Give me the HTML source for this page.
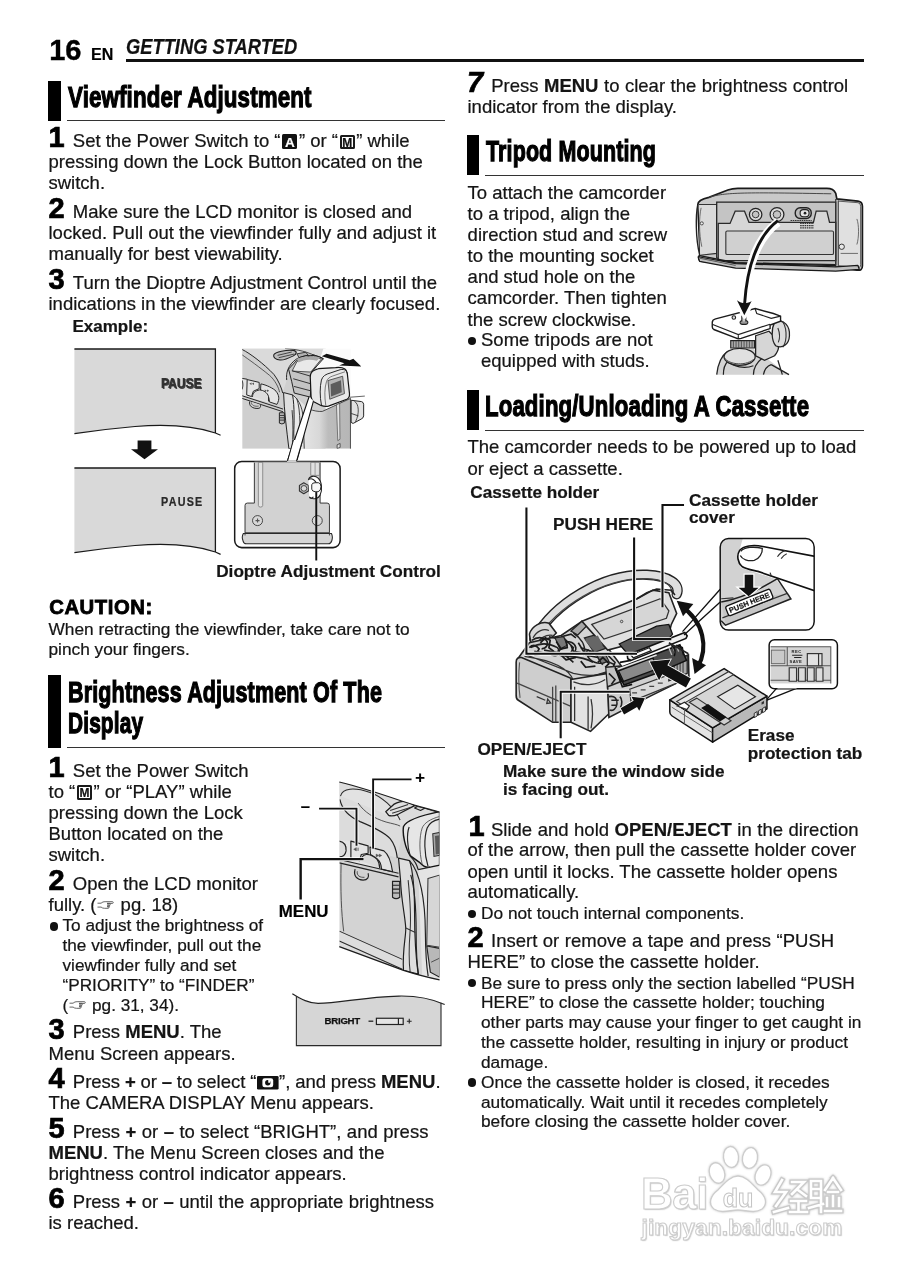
<!DOCTYPE html>
<html lang="en"><head><meta charset="utf-8"><title>Getting Started - page 16</title>
<style>
html,body{margin:0;padding:0;background:#fff;}
body{width:899px;height:1280px;overflow:hidden;font-family:"Liberation Sans",sans-serif;color:#1a1a1a;}
#page{position:relative;width:899px;height:1280px;background:#fff;overflow:hidden;will-change:transform;transform:translateZ(0);}
.t{position:absolute;white-space:nowrap;line-height:1;font-family:"Liberation Sans",sans-serif;color:#151515;-webkit-text-stroke:0.22px #151515;}
.b{font-weight:bold;}
.num{font-weight:bold;color:#000;-webkit-text-stroke:0.7px #000;}
.h{font-weight:bold;color:#000;transform-origin:0 0;-webkit-text-stroke:1.25px #000;letter-spacing:0.2px;}
.hd{font-style:italic;font-weight:bold;transform-origin:0 0;color:#111;}
.cau{font-weight:bold;color:#000;-webkit-text-stroke:0.8px #000;letter-spacing:0.3px;}
.bar{position:absolute;background:#000;}
.rule{position:absolute;background:#333;height:1px;}
.abs{position:absolute;}
.ia{-webkit-text-stroke:0.2px #fff;display:inline-block;background:#111;color:#fff;font-weight:bold;font-size:13.5px;line-height:15px;height:14px;padding-top:1px;width:15px;text-align:center;border-radius:1.5px;vertical-align:-2.2px;margin:0 1.6px 0 1.8px;overflow:hidden;}
.im{display:inline-block;background:#fff;color:#111;font-weight:bold;font-size:12px;line-height:11.4px;height:9.8px;padding-top:1px;width:10.8px;text-align:center;border:2px solid #1a1a1a;border-radius:1.5px;vertical-align:-2.2px;margin:0 1.6px 0 1.8px;letter-spacing:-0.3px;text-indent:-0.3px;overflow:hidden;}
.hand{display:inline-block;vertical-align:0px;margin:0 1px;}
.idisp{display:inline-block;vertical-align:-1.2px;margin:0 0.6px;}
.bl{position:absolute;width:8.6px;height:8.6px;border-radius:50%;background:#111;}
svg{overflow:visible;}

</style></head>
<body>
<div id="page">
<svg class="abs" style="left:0;top:0" width="460" height="600" viewBox="0 0 460 600">
<path d="M74.4 349 H215.4 V433 C190 424.5 160 424.5 135 426.5 C112 428.5 92 431 74.4 433.6 Z" fill="#d9d9d9"/>
<path d="M74.4 349 H215.4 V433" fill="none" stroke="#1a1a1a" stroke-width="1.3"/>
<path d="M74.4 433.6 C92 431 112 428.5 135 426.5 C160 424.5 190 424.5 215.4 433 L220.6 435.2" fill="none" stroke="#1a1a1a" stroke-width="1.2"/>
<path d="M74.4 468 H215.4 V552 C190 543.5 160 543.5 135 545.5 C112 547.5 92 550 74.4 552.6 Z" fill="#d9d9d9"/>
<path d="M74.4 468 H215.4 V552" fill="none" stroke="#1a1a1a" stroke-width="1.3"/>
<path d="M74.4 552.6 C92 550 112 547.5 135 545.5 C160 543.5 190 543.5 215.4 552 L220.6 554.4" fill="none" stroke="#1a1a1a" stroke-width="1.2"/>
<path d="M137.6 440.4 H151.4 V449.3 H158 L144.5 459.2 L131 449.3 H137.6 Z" fill="#111"/>
</svg>
<div class="t b" style="left:160.5px;top:375.33px;font-size:15.20px;color:#333;transform-origin:0 0;transform:scaleX(0.79);filter:blur(0.45px);text-shadow:1.2px 0.6px 0 #444;">PAUSE</div>
<div class="t b" style="left:161.0px;top:494.68px;font-size:13.60px;color:#2a2a2a;letter-spacing:1.6px;transform-origin:0 0;transform:scaleX(0.79);">PAUSE</div>
<svg class="abs" style="left:230px;top:340px" width="150" height="120" viewBox="0 0 899 719">
<defs><clipPath id="c1"><rect x="73" y="51" width="653" height="601"/></clipPath>
<linearGradient id="g1" x1="0" x2="1" y1="0" y2="0"><stop offset="0" stop-color="#ececec"/><stop offset="0.45" stop-color="#d8d8d8"/><stop offset="0.6" stop-color="#bcbcbc"/><stop offset="1" stop-color="#b6b6b6"/></linearGradient></defs>
<g clip-path="url(#c1)">
<rect x="73" y="51" width="500" height="601" fill="#cfcfcf"/>
<rect x="520" y="51" width="210" height="320" fill="#fbfbfb"/>
<path d="M73 51 H560 L540 112 L351 174 L340 240 L316 318 C310 290 290 240 263 206 C200 140 120 80 73 57 Z" fill="#dadada"/>
<path d="M73 57 C120 80 200 140 263 206 C290 240 310 290 316 318" fill="none" stroke="#222" stroke-width="5.85"/>
<path d="M73 89 C110 115 180 165 236 211 C270 240 292 285 297 313" fill="none" stroke="#333" stroke-width="4.55"/>
<path d="M262 89 C270 70 340 58 380 62 C405 68 400 85 380 95 C350 110 320 122 300 120 C275 118 258 105 262 89 Z" fill="#bcbcbc" stroke="#1f1f1f" stroke-width="6.5"/>
<path d="M285 92 L370 72 M292 106 L385 84" stroke="#333" stroke-width="5.2"/>
<path d="M401 83 L454 73 L468 90 L414 106 Z" fill="#b0b0b0" stroke="#222" stroke-width="5.2"/>
<path d="M330 51 C400 55 470 70 539 108" fill="none" stroke="#333" stroke-width="5.2"/>
<!-- control cluster -->
<path d="M73 230 L103 235 L175 254 L185 262 C215 268 262 290 276 307 C293 330 300 352 281 386 L73 334 Z" fill="#e4e4e4"/>
<path d="M73 230 L103 235 M103 237 L175 254 L175 291 L140 307 L129 339 L100 329 Z" fill="#e4e4e4" stroke="#222" stroke-width="5.85" stroke-linejoin="round"/>
<path d="M185 263 C215 268 262 290 276 307 C293 330 300 352 281 386 L236 371 C236 350 231 335 215 322 C200 312 190 305 183 302 Z" fill="#e4e4e4" stroke="#222" stroke-width="5.85" stroke-linejoin="round"/>
<path d="M135 341 C135 315 150 305 177 299 C200 300 225 315 231 339 L231 368" fill="#dcdcdc" stroke="#222" stroke-width="5.85"/>
<path d="M116 262 l13 -7 v15 z M131 262 l13 -7 v15 z M208 296 l13 8 l-13 8 z M222 296 l13 8 l-13 8 z" fill="#555"/>
<path d="M73 242 C78 260 78 280 73 295" fill="none" stroke="#222" stroke-width="6"/>
<path d="M73 334 L318 414 M73 350 L318 430" stroke="#222" stroke-width="5.85"/>
<path d="M118 368 C112 395 135 412 168 410 C184 408 186 398 180 386" fill="#d4d4d4" stroke="#222" stroke-width="5.85"/>
<path d="M128 374 C128 392 150 400 172 396" fill="none" stroke="#444" stroke-width="4.55"/>
<path d="M296 436 h30 v62 q-15 10 -30 0 z" fill="#bdbdbd" stroke="#222" stroke-width="5.85"/>
<path d="M298 452 h26 M298 466 h26 M298 480 h26" stroke="#222" stroke-width="5.2"/>
<!-- lower right panel -->
<path d="M380 330 L473 414 L553 428 L726 348 V652 H380 Z" fill="url(#g1)"/>
<path d="M473 414 C500 424 530 430 553 428 L722 350" fill="none" stroke="#333" stroke-width="5.2"/>
<path d="M638 388 L657 380 L659 595 L646 603 Z" fill="#e2e2e2" stroke="#444" stroke-width="3.9"/>
<path d="M642 628 l18 -8 v24 l-18 6 z" fill="#ddd" stroke="#333" stroke-width="4.55"/>
<path d="M722 350 V652" stroke="#444" stroke-width="5.2"/>
<!-- strap -->
<path d="M321 315 L375 329 C388 400 384 500 382 563 L388 652 L353 652 C340 540 325 430 321 315 Z" fill="#dedede" stroke="#1f1f1f" stroke-width="5.85"/>
<path d="M375 329 C420 360 440 420 440 500 L445 652 M400 350 C425 420 420 560 418 652 M372 420 C380 500 378 580 372 652" fill="none" stroke="#2a2a2a" stroke-width="5.2"/>
<!-- viewfinder tube -->
<path d="M351 174 L401 121 L502 89 L560 112 L490 190 L481 342 L385 318 L370 250 Z" fill="#c4c4c4" stroke="#1f1f1f" stroke-width="5.85" stroke-linejoin="round"/>
<path d="M372 186 L402 128 L500 96 L548 114 L484 192 Z" fill="#e9e9e9" stroke="#2a2a2a" stroke-width="4.55"/>
<path d="M375 185 L484 217 M379 232 L483 262 M383 278 L482 304" stroke="#222" stroke-width="5.2"/>
<path d="M340 240 C335 200 345 150 401 112 C450 85 520 85 560 112" fill="none" stroke="#222" stroke-width="5.85"/>
<path d="M401 112 C440 96 500 92 540 105 L520 125 C480 112 440 118 410 135 Z" fill="#a8a8a8"/>
</g>
<path d="M726 361 L788 369 Q800 372 801 385 V455 Q800 468 786 474 L740 499 Q728 500 726 492 Z" fill="#e2e2e2" stroke="#222" stroke-width="5.85"/>
<path d="M746 368 C772 380 778 440 752 490 M726 440 L770 455" fill="none" stroke="#333" stroke-width="5.2"/>
<path d="M718 343 L808 336" stroke="#333" stroke-width="4.55"/>
<path d="M481 222 C481 190 500 180 530 172 L633 165 C680 160 700 172 703 200 L716 320 C718 340 712 350 700 355 L590 396 C570 402 560 398 545 392 L505 372 C492 365 488 355 486 340 Z" fill="#e9e9e9" stroke="#151515" stroke-width="7.15"/>
<path d="M548 390 C538 340 538 280 548 240 C555 215 575 205 600 198 L660 178 C690 172 700 185 702 200" fill="none" stroke="#222" stroke-width="5.85"/>
<path d="M574 392 C566 340 566 290 578 250 C584 230 598 222 615 216 L690 190" fill="none" stroke="#555" stroke-width="4.55"/>
<path d="M587 243 L675 217 L686 321 L598 355 Z" fill="#b4b4b4" stroke="#333" stroke-width="4.55"/>
<path d="M603 265 L665 241 L670 313 L606 339 Z" fill="#5c5c5c"/>
<path d="M550 97 L579 83 L718 121 L739 113 L787 159 L654 152 L686 139 Z" fill="#111"/>
<path d="M474 340 L346 719 L402 719 L500 366 Z" fill="#fff"/>
<path d="M474 340 L346 719 M500 366 L402 719" stroke="#111" stroke-width="6.5" fill="none"/>
</svg>
<svg class="abs" style="left:225px;top:440px" width="150" height="140" viewBox="0 0 899 839">
<path d="M410 0 L375 130 L425 130 L465 0 Z" fill="#fff"/>
<rect x="58" y="129" width="632" height="516" rx="42" fill="#fff" stroke="#1a1a1a" stroke-width="9"/>
<path d="M410 0 L373 132 M465 0 L427 132" stroke="#111" stroke-width="5.85"/>
<path d="M372 131 L428 131" stroke="#fff" stroke-width="9"/>
<path d="M176 134 H570 V378 H612 Q626 378 626 392 V556 H120 V392 Q120 378 134 378 H176 Z" fill="#d2d2d2" stroke="#333" stroke-width="5.85"/>
<path d="M176 134 H570" stroke="#d2d2d2" stroke-width="6"/>
<path d="M200 134 H226 V392 Q226 402 213 402 Q200 402 200 392 Z" fill="#e2e2e2" stroke="#666" stroke-width="3.9"/>
<path d="M514 134 H566 V212 H514 Z" fill="#e0e0e0" stroke="#666" stroke-width="3.9"/>
<path d="M540 134 V212" stroke="#777" stroke-width="3.9"/>
<path d="M110 560 H638 Q648 580 640 604 Q634 622 620 622 H128 Q112 622 108 604 Q98 580 110 560 Z" fill="#d6d6d6" stroke="#2a2a2a" stroke-width="6.5"/>
<path d="M120 556 V572 M626 556 V572" stroke="#333" stroke-width="5.2"/>
<circle cx="195" cy="483" r="30" fill="#d8d8d8" stroke="#333" stroke-width="5.2"/>
<path d="M183 483 h24 M195 471 v24" stroke="#555" stroke-width="6.5"/>
<circle cx="553" cy="483" r="30" fill="#d8d8d8" stroke="#333" stroke-width="5.2"/>
<path d="M472 256 L500 272 V306 L472 322 L446 306 V272 Z" fill="#bbb" stroke="#333" stroke-width="6.5" stroke-linejoin="round"/>
<circle cx="473" cy="290" r="17" fill="#ddd" stroke="#333" stroke-width="5.2"/>
<path d="M500 240 C505 215 540 210 560 230 C580 250 585 300 570 330 C560 355 520 360 505 340" fill="#fff" stroke="#222" stroke-width="6.5"/>
<path d="M505 235 C520 225 545 245 548 262 M505 345 C515 350 525 348 530 340" fill="none" stroke="#222" stroke-width="6.5"/>
<path d="M520 268 Q522 256 540 256 H560 Q575 258 575 280 Q575 305 558 310 H540 Q522 308 520 295 Z" fill="#f8f8f8" stroke="#222" stroke-width="5.85"/>
<path d="M547 312 V722" stroke="#111" stroke-width="11.5"/>
</svg>
<svg class="abs" style="left:270px;top:760px" width="180" height="230" viewBox="0 0 899 1149">
<defs><clipPath id="c2"><path d="M346 110 C420 128 520 158 661 206 C740 232 800 246 847 260 V1098 C780 1085 720 1068 667 1051 L346 932 Z"/></clipPath></defs>
<g clip-path="url(#c2)">
<rect x="340" y="100" width="520" height="1010" fill="#d3d3d3"/>
<!-- top surface -->
<path d="M346 110 L847 260 V340 L690 300 L667 332 L636 490 L346 400 Z" fill="#dcdcdc"/>
<path d="M352 180 C362 140 420 135 500 162 C560 182 620 240 650 300" fill="#e2e2e2" stroke="#2a2a2a" stroke-width="5.2"/>
<path d="M349 197 C360 250 398 285 450 308 C508 332 570 360 600 393 C622 420 632 455 636 490" fill="none" stroke="#222" stroke-width="5.85"/>
<path d="M440 215 C470 260 520 292 580 310 C610 318 635 322 650 330" fill="none" stroke="#444" stroke-width="4.55"/>
<path d="M578 258 L618 222 C640 210 670 205 691 206 L722 228 L642 270 C620 280 600 280 593 277 Z" fill="#e0e0e0" stroke="#1f1f1f" stroke-width="6.5" stroke-linejoin="round"/>
<path d="M600 252 L690 222 M610 266 L705 236" stroke="#333" stroke-width="5.2"/>
<path d="M722 240 L752 225 L795 228 L752 252 Z" fill="#d8d8d8" stroke="#222" stroke-width="5.85" stroke-linejoin="round"/>
<path d="M722 228 C760 236 810 250 847 264" fill="none" stroke="#333" stroke-width="5.2"/>
<!-- control cluster -->
<path d="M346 400 L404 405 L490 429 L499 435 L569 454 L600 497 L612 560 L346 497 Z" fill="#e3e3e3"/>
<path d="M346 405 C373 410 382 430 380 454 C376 476 360 484 346 484" fill="#dcdcdc" stroke="#222" stroke-width="5.85"/>
<path d="M404 405 L490 429 L490 466 L456 472 L447 503 L404 490 Z" fill="#e3e3e3" stroke="#222" stroke-width="5.85" stroke-linejoin="round"/>
<path d="M499 435 L569 454 C590 470 604 500 612 558 L557 545 C555 520 548 505 538 497 C525 485 512 478 502 472 Z" fill="#e3e3e3" stroke="#222" stroke-width="5.85" stroke-linejoin="round"/>
<path d="M456 505 C456 485 462 475 480 472 C500 470 525 485 535 497 C545 510 548 525 548 541" fill="#dadada" stroke="#222" stroke-width="5.85"/>
<path d="M418 446 l13 -8 v16 z M436 438 v16 M442 438 v16 M530 470 l13 7 l-13 7 z M545 470 l13 7 l-13 7 z" fill="#555" stroke="#555" stroke-width="2.6"/>
<path d="M346 497 L642 566 M346 514 L642 584" stroke="#222" stroke-width="5.85"/>
<path d="M425 545 C415 580 435 598 465 600 C488 600 496 585 490 566" fill="#d0d0d0" stroke="#222" stroke-width="5.85"/>
<path d="M436 556 C432 578 450 588 472 586" fill="none" stroke="#444" stroke-width="4.55"/>
<!-- LCD door -->
<path d="M612 606 h36 v80 q-18 14 -36 0 z" fill="#bdbdbd" stroke="#222" stroke-width="5.85"/>
<path d="M614 626 h32 M614 645 h32 M614 664 h32" stroke="#222" stroke-width="5.2"/>
<path d="M355 520 C352 650 356 760 368 856" fill="none" stroke="#444" stroke-width="4.55"/>
<path d="M346 855 L661 996 V1048 L346 932 Z" fill="#dddddd"/>
<path d="M346 855 L661 996 M346 904 L661 1045" fill="none" stroke="#2a2a2a" stroke-width="5.2"/>
<!-- right body -->
<path d="M740 545 L847 505 V1098 L760 1075 Z" fill="#e4e4e4"/>
<path d="M789 592 L847 575 V935 L783 925 Z" fill="#d6d6d6" stroke="#333" stroke-width="5.2"/>
<path d="M783 929 L847 941 V1085 L801 1060 Z" fill="#b8b8b8" stroke="#222" stroke-width="5.85"/>
<path d="M805 1010 L847 990" stroke="#444" stroke-width="4.55"/>
<!-- strap -->
<path d="M642 490 L697 503 C715 560 722 650 722 760 C722 850 725 960 740 1070 L667 1051 C660 950 680 880 678 840 C675 780 655 700 652 600 Z" fill="#dedede" stroke="#1f1f1f" stroke-width="5.85" stroke-linejoin="round"/>
<path d="M703 574 C722 640 730 760 730 860 C730 950 732 1010 742 1072 M697 503 C750 560 775 700 776 860 C777 960 780 1020 790 1080" fill="none" stroke="#222" stroke-width="5.85"/>
<path d="M676 838 L726 862 M690 600 C700 700 705 780 700 850 C695 920 690 980 700 1058" fill="none" stroke="#333" stroke-width="5.2"/>
<!-- eyepiece -->
<path d="M667 332 C680 305 740 280 847 258 V525 L800 535 C775 540 760 525 745 510 L700 478 C676 440 660 370 667 332 Z" fill="#e6e6e6" stroke="#151515" stroke-width="7.15"/>
<path d="M700 478 C685 430 682 370 695 335 M789 530 C770 470 768 390 785 340 C795 315 820 300 847 295" fill="none" stroke="#222" stroke-width="5.85"/>
<path d="M760 520 C745 460 745 385 760 340 C770 315 800 295 847 282" fill="none" stroke="#555" stroke-width="4.55"/>
<path d="M813 368 L847 362 V476 L819 482 Z" fill="#a8a8a8" stroke="#333" stroke-width="5.2"/>
<path d="M824 380 L847 376 V468 L828 472 Z" fill="#5a5a5a"/>
<path d="M700 480 C720 500 735 525 740 548 M740 548 L800 535" fill="none" stroke="#222" stroke-width="5.85"/>
</g>
<path d="M346 110 C420 128 520 158 661 206 C740 232 800 246 847 260" fill="none" stroke="#1c1c1c" stroke-width="6"/>
<path d="M346 932 L667 1051 C720 1068 780 1085 847 1098" fill="none" stroke="#1c1c1c" stroke-width="6.5"/>
<!-- pointer lines with white halo -->
<path d="M707 97 H515 V442 M245 243 H432 V428 M153 697 V495 H467" fill="none" stroke="#fff" stroke-width="19" stroke-linecap="butt"/>
<path d="M707 97 H515 V442 M245 243 H432 V428" fill="none" stroke="#111" stroke-width="9.5"/>
<path d="M153 697 V495 H467" fill="none" stroke="#111" stroke-width="12"/>
</svg>
<svg class="abs" style="left:285px;top:985px" width="165" height="70" viewBox="0 0 899 381">
<path d="M62 62 C100 85 130 100 180 100 C300 100 420 65 620 60 C720 58 790 72 850 96 V330 H62 Z" fill="#d6d6d6"/>
<path d="M40 47 C90 78 130 100 180 100 C300 100 420 65 620 60 C720 58 800 75 870 106" fill="none" stroke="#222" stroke-width="6.5"/>
<path d="M62 62 V330 H850 V96" fill="none" stroke="#2a2a2a" stroke-width="6"/>
<rect x="498" y="181" width="146" height="34" fill="#e4e4e4" stroke="#222" stroke-width="6.5"/>
<path d="M618 181 V215" stroke="#222" stroke-width="6.5"/>
<path d="M455 197 H481" stroke="#222" stroke-width="7"/>
<path d="M664 197 H690 M677 184 V210" stroke="#222" stroke-width="6"/>
</svg>
<div class="t b" style="left:324.6px;top:1016.19px;font-size:9.70px;color:#111;letter-spacing:-0.3px;-webkit-text-stroke:0.25px #111;">BRIGHT</div>
<svg class="abs" style="left:680px;top:180px" width="200" height="200" viewBox="0 0 899 899">
<!-- camcorder bottom view -->
<path d="M80 110 C80 95 100 85 130 78 L215 45 Q235 38 260 38 H660 Q690 38 700 60 L705 85 L800 95 Q820 98 820 118 V385 Q820 410 795 405 L705 392 L700 400 L250 385 L95 365 Q82 362 84 345 L90 335 Z" fill="#c9c9c9" stroke="#1a1a1a" stroke-width="7.5"/>
<path d="M130 78 C200 55 300 55 680 62" fill="none" stroke="#444" stroke-width="4.38"/>
<path d="M84 110 H165 V330 L90 338" fill="#dadada" stroke="#333" stroke-width="5"/>
<path d="M80 110 C70 160 70 260 88 335" fill="none" stroke="#222" stroke-width="6.25"/>
<path d="M95 125 C85 170 85 240 98 300" fill="none" stroke="#555" stroke-width="3.75"/>
<circle cx="98" cy="195" r="7" fill="#eee" stroke="#333" stroke-width="3.75"/>
<path d="M165 100 H700 V380 L250 372 L165 350 Z" fill="#c4c4c4" stroke="#222" stroke-width="5.62"/>
<path d="M172 195 H225 L248 140 H290 L310 190 H600 L612 140 H660 L672 190 H700 V362 H172 Z" fill="#d6d6d6" stroke="#2a2a2a" stroke-width="5.62"/>
<rect x="206" y="229" width="484" height="106" rx="6" fill="#d0d0d0" stroke="#333" stroke-width="5"/>
<circle cx="340" cy="155" r="28" fill="#dcdcdc" stroke="#222" stroke-width="5.62"/>
<circle cx="340" cy="155" r="15" fill="#c4c4c4" stroke="#333" stroke-width="4.38"/>
<circle cx="436" cy="155" r="31" fill="#dcdcdc" stroke="#222" stroke-width="5.62"/>
<circle cx="436" cy="155" r="17" fill="#c4c4c4" stroke="#333" stroke-width="4.38"/>
<rect x="518" y="125" width="72" height="48" rx="22" fill="#bbb" stroke="#222" stroke-width="6.25"/>
<rect x="540" y="133" width="40" height="32" rx="14" fill="#e6e6e6" stroke="#222" stroke-width="5"/>
<circle cx="562" cy="149" r="6" fill="#222"/>
<path d="M497 182 h95 M540 195 h62 M540 205 h62 M540 215 h62" stroke="#333" stroke-width="5" stroke-dasharray="7 3"/>
<path d="M700 85 V395 M712 92 V396" fill="none" stroke="#333" stroke-width="5"/>
<path d="M712 95 L800 102 Q812 104 812 118 V380 Q812 396 797 394 L712 385 Z" fill="#e0e0e0" stroke="#444" stroke-width="3.75"/>
<path d="M795 175 C805 200 805 260 795 290" fill="none" stroke="#555" stroke-width="3.75"/>
<circle cx="727" cy="300" r="12" fill="#e8e8e8" stroke="#333" stroke-width="4.38"/>
<path d="M722 330 H800" stroke="#555" stroke-width="3.75"/>
<path d="M88 340 L250 372 L700 385" fill="none" stroke="#1a1a1a" stroke-width="6"/>
<path d="M82 345 L250 376 L700 390 L800 384 L806 402 L700 410 L250 396 L88 366 Z" fill="#c0c0c0" stroke="#1a1a1a" stroke-width="5.62" stroke-linejoin="round"/>
<path d="M90 352 L250 384" fill="none" stroke="#444" stroke-width="3.75"/>
<!-- tripod -->
<path d="M165 875 C175 820 190 780 230 765 L330 760 C380 790 420 830 490 875 Z" fill="#d4d4d4"/>
<path d="M165 875 C170 830 185 790 215 770 M195 875 C195 850 200 830 215 815 C240 840 290 850 330 835 M330 875 C330 850 345 820 370 800 M410 830 L490 875 M440 810 L460 875 M375 875 C380 850 395 835 410 830" fill="none" stroke="#222" stroke-width="5.62"/>
<ellipse cx="268" cy="795" rx="70" ry="38" fill="#e0e0e0" stroke="#222" stroke-width="5.62"/>
<path d="M200 800 C220 830 300 840 338 800" fill="none" stroke="#444" stroke-width="4.38"/>
<path d="M340 700 L400 680 L420 700 C450 730 450 760 425 790 L380 810 L340 790 Z" fill="#d6d6d6" stroke="#222" stroke-width="5.62"/>
<path d="M228 722 H335 V755 H228 Z" fill="#aaa" stroke="#222" stroke-width="5"/>
<path d="M240 724 v30 M252 724 v30 M264 724 v30 M276 724 v30 M288 724 v30 M300 724 v30 M312 724 v30 M324 724 v30" stroke="#444" stroke-width="3.75"/>
<path d="M425 640 C470 620 495 660 492 700 C490 740 460 760 430 745 C410 720 410 670 425 640 Z" fill="#dcdcdc" stroke="#222" stroke-width="5.62"/>
<path d="M455 632 C480 650 485 720 462 752 M440 665 C450 690 450 710 442 730" fill="none" stroke="#333" stroke-width="5"/>
<path d="M145 640 Q145 628 160 624 L338 578 L420 600 L452 612 L452 635 L405 652 L405 668 L275 712 Q262 716 250 710 L152 672 Q145 668 145 660 Z" fill="#fff" stroke="#1c1c1c" stroke-width="6.25"/>
<path d="M147 650 L262 695 L405 648 M338 580 L345 600 L410 622 L452 612 M262 695 V712" fill="none" stroke="#222" stroke-width="5"/>
<circle cx="242" cy="618" r="8" fill="#ddd" stroke="#222" stroke-width="5"/>
<path d="M270 640 C270 628 305 628 305 640 C305 652 270 652 270 640 Z" fill="#999" stroke="#222" stroke-width="5"/>
<path d="M278 636 V612 h18 V636" fill="#ccc" stroke="#222" stroke-width="5"/>
<!-- curved arrow -->
<path d="M440 190 C352 255 302 380 290 560" fill="none" stroke="#fff" stroke-width="38" stroke-linecap="butt"/>
<path d="M246 542 L290 616 L330 544 Z" fill="#fff" stroke="#fff" stroke-width="16" stroke-linejoin="round"/>
<path d="M440 183 C352 250 302 380 290 560" fill="none" stroke="#111" stroke-width="13"/>
<path d="M256 540 L289 608 L322 544 C302 558 276 556 256 540 Z" fill="#111"/>
</svg>
<svg class="abs" style="left:500px;top:540px" width="220" height="220" viewBox="0 0 899 899">
<!-- strap -->
<path d="M140 405 C220 260 420 135 600 142 C690 146 740 180 722 222" fill="none" stroke="#222" stroke-width="42" stroke-linecap="round"/>
<path d="M140 405 C220 260 420 135 600 142 C690 146 740 180 722 222" fill="none" stroke="#dedede" stroke-width="31" stroke-linecap="round"/>
<path d="M150 410 C230 272 425 152 600 158 C670 160 705 185 700 215" fill="none" stroke="#444" stroke-width="5.2"/>
<!-- strap anchor left -->
<path d="M120 385 C130 350 170 330 200 340 L230 380 L180 430 L130 440 Z" fill="#d8d8d8" stroke="#222" stroke-width="6.5"/>
<path d="M135 400 C150 370 180 360 200 370 M150 430 C160 400 190 385 215 390" fill="none" stroke="#333" stroke-width="5.2"/>
<!-- body top -->
<path d="M75 482 L120 420 L250 390 L335 332 L440 440 L500 520 L300 580 Z" fill="#d4d4d4" stroke="#222" stroke-width="6.5"/>
<path d="M125 440 C160 420 200 420 235 440 C250 460 240 480 210 470 M260 400 L300 440 L285 470 M300 380 C330 400 350 430 345 460 M240 470 C280 480 330 470 380 500 M390 470 C420 480 440 500 470 510 M140 455 L230 470 M330 440 L420 470" fill="none" stroke="#222" stroke-width="6.5"/>
<path d="M345 400 L400 385 L440 440 L385 460 Z" fill="#666" stroke="#222" stroke-width="5.2"/>
<path d="M130 410 C150 395 175 395 190 410 C200 425 190 445 170 445 M200 395 L245 405 L260 440 L235 455 M265 420 C285 410 305 420 310 440 C312 455 300 465 285 462 M320 420 L350 470 L400 480 L420 510 M180 450 L260 465 L300 500 M355 470 C370 500 400 510 430 500 M440 470 L470 500 L460 525 M250 395 L290 385 L310 400" fill="none" stroke="#1c1c1c" stroke-width="6.5"/>
<path d="M225 400 L260 395 L275 430 L245 445 Z M395 470 L430 465 L445 495 L415 505 Z" fill="#777" stroke="#222" stroke-width="4.55"/>
<path d="M290 372 L335 332 L360 345 L318 388 Z" fill="#a8a8a8" stroke="#222" stroke-width="5.2"/>
<path d="M120 440 C135 425 150 430 160 445 L150 462 M165 420 L185 400 L205 410 L200 440 L220 455 M230 415 L250 445 L275 440 L270 410 M290 430 L300 455 L330 460 M340 470 L360 450 L385 468 M400 500 L420 480 L445 505 L430 520 M250 470 L270 490 L310 480 M330 495 L350 520 L390 515 M140 470 L170 465 M190 462 L230 470" fill="none" stroke="#1a1a1a" stroke-width="7.15" stroke-linejoin="round"/>
<path d="M100 476 C200 490 280 520 300 575 M110 470 L300 545 M300 545 C360 560 420 555 470 525" fill="none" stroke="#333" stroke-width="5.2"/>
<!-- left block -->
<path d="M66 500 Q66 478 88 480 L290 565 V745 L215 745 L75 655 Q66 650 66 635 Z" fill="#cecece" stroke="#222" stroke-width="6.5"/>
<path d="M70 585 L290 680" stroke="#444" stroke-width="5.2"/>
<path d="M80 500 C76 540 76 600 82 645" fill="none" stroke="#555" stroke-width="4.55"/>
<path d="M150 640 L185 655 M195 650 l12 16 l-16 2 z" fill="none" stroke="#333" stroke-width="5.2"/>
<path d="M215 745 V600 M228 595 V745" stroke="#444" stroke-width="5.2"/>
<!-- lower middle -->
<path d="M290 570 L440 545 L445 710 L370 782 L290 745 Z" fill="#e2e2e2" stroke="#222" stroke-width="6.5"/>
<path d="M300 580 C350 600 400 590 430 570 M305 600 V740 M360 640 V775 M372 650 C380 690 380 730 372 770" fill="none" stroke="#333" stroke-width="5.2"/>
<path d="M432 520 L490 515 L520 600 L440 615 Z" fill="#c2c2c2" stroke="#222" stroke-width="5.2"/>
<path d="M445 545 L470 570 L455 590 M480 540 L495 575" fill="none" stroke="#1a1a1a" stroke-width="6.5"/>
<!-- right lower body -->
<path d="M440 600 L770 470 L772 560 L610 640 L445 725 Z" fill="#cfcfcf" stroke="#222" stroke-width="6.5"/>
<path d="M530 610 L720 540 L722 585 L535 660 Z" fill="#dadada" stroke="#333" stroke-width="5.2"/>
<path d="M445 640 C470 635 480 650 478 670 C476 690 460 700 448 695 M455 655 h30 M455 675 h25 M490 640 C500 650 500 670 492 685" fill="none" stroke="#222" stroke-width="6.5"/>
<path d="M690 500 L765 472 V545 L690 575 Z" fill="#aaa" stroke="#222" stroke-width="5.2"/>
<path d="M700 500 v65 M712 495 v65 M724 490 v65 M736 486 v65 M748 482 v65" stroke="#444" stroke-width="4.55"/>
<path d="M540 625 h20 M575 612 h20 M610 598 h20 M645 585 h20" stroke="#444" stroke-width="5.2"/>
<!-- slot dark -->
<path d="M473 528 L735 428 L762 492 L640 545 L507 593 Z" fill="#4a4a4a" stroke="#111" stroke-width="6.5"/>
<path d="M485 535 L625 482 L640 528 L505 578 Z" fill="#8a8a8a" stroke="#111" stroke-width="5.2"/>
<path d="M480 528 L640 470" stroke="#e4e4e4" stroke-width="6"/>
<path d="M470 520 L500 600 L540 590" fill="none" stroke="#111" stroke-width="6.5"/>
<path d="M690 440 l12 30 M705 434 l12 30 M720 428 l10 28" stroke="#bbb" stroke-width="5.2"/>
<!-- open lid -->
<path d="M335 332 L560 240 L625 205 L690 215 L722 300 L700 345 L690 385 L440 450 Z" fill="#e0e0e0" stroke="#222" stroke-width="6.5"/>
<path d="M375 345 L655 240 L690 290 L680 320 L425 405 Z" fill="#d6d6d6" stroke="#333" stroke-width="5.2"/>
<circle cx="497" cy="333" r="5" fill="none" stroke="#444" stroke-width="3.9"/>
<path d="M560 240 L600 215 L640 200 L700 205 L715 225" fill="none" stroke="#222" stroke-width="6.5"/>
<!-- holder dark interior -->
<path d="M487 425 L640 352 L690 345 L705 385 L680 415 L525 470 Z" fill="#5a5a5a" stroke="#111" stroke-width="5.2"/>
<path d="M345 408 L400 390 L420 430 L380 450 Z" fill="#666"/>
<!-- holder plate -->
<path d="M520 470 L755 378 L765 392 L760 402 L535 492 L522 485 Z" fill="#f0f0f0" stroke="#111" stroke-width="6.5"/>
<path d="M535 470 L610 440 L618 452 L545 482 Z" fill="#fff" stroke="#222" stroke-width="5.2"/>
<path d="M490 500 L535 492 M700 430 C715 440 720 460 712 475 M720 430 L745 440 L750 470" fill="none" stroke="#111" stroke-width="6.5"/>
<path d="M690 420 L770 465" stroke="#222" stroke-width="6.5"/>
<!-- curved double arrow -->
<path d="M738 268 C835 335 852 440 808 520" fill="none" stroke="#111" stroke-width="17"/>
<path d="M722 248 L790 262 L748 312 Z" fill="#111"/>
<path d="M795 548 L785 482 L842 512 Z" fill="#111"/>
<!-- big arrow -->
<path d="M612 497 L697 488 L684 512 L780 566 L760 603 L663 549 L650 573 Z" fill="#111" stroke="#fff" stroke-width="6.5" paint-order="stroke"/>
<!-- small arrow -->
<path d="M592 647 L569 698 L560 682 L507 713 L493 688 L546 657 L537 641 Z" fill="#111" stroke="#fff" stroke-width="6.5" paint-order="stroke"/>
<!-- pointer lines with halo -->
<path d="M108 -133 V465 H560 M548 -10 V405 H700 M752 -143 H664 V275 M248 810 V620 H530" fill="none" stroke="#fff" stroke-width="16"/>
<path d="M108 -133 V465 H560 M548 -10 V405 H700 M752 -143 H664 V275 M248 810 V620 H530" fill="none" stroke="#111" stroke-width="8.5"/>
</svg>
<svg class="abs" style="left:660px;top:520px" width="220" height="230" viewBox="0 0 899 940">
<defs><clipPath id="c5"><rect x="246" y="76" width="384" height="374" rx="34"/></clipPath>
<clipPath id="c6"><rect x="446" y="489" width="279" height="201" rx="22"/></clipPath></defs>
<!-- callout lines from push inset -->
<path d="M246 283 L92 456 M246 335 L98 470" stroke="#111" stroke-width="5.4"/>
<!-- PUSH HERE inset -->
<rect x="246" y="76" width="384" height="374" rx="34" fill="#fff"/>
<g clip-path="url(#c5)">
<path d="M240 70 H340 L320 140 L330 195 L470 240 L530 305 L535 325 L262 432 L240 440 Z" fill="#d2d2d2"/>
<path d="M250 335 L520 300 L535 322 L268 430 Z" fill="#c6c6c6"/>
<path d="M250 335 C340 320 430 270 480 240 L520 300 L535 322 L268 430 L250 412 M250 412 L268 430" fill="none" stroke="#222" stroke-width="6"/>
<path d="M250 322 L300 318 M255 400 L520 300" fill="none" stroke="#333" stroke-width="4.8"/>
<path d="M640 150 L420 108 C380 100 340 105 325 125 C312 145 318 175 335 190 C350 200 380 205 400 210 L640 292 Z" fill="#fff" stroke="#111" stroke-width="6.6"/>
<path d="M330 128 C345 110 385 108 418 116 C420 135 405 160 385 165 C360 170 335 160 328 145" fill="none" stroke="#222" stroke-width="5.4"/>
<path d="M480 150 C490 135 500 128 512 125 M495 158 C502 148 508 142 518 138" fill="none" stroke="#333" stroke-width="4.8"/>
<path d="M450 215 L455 230" stroke="#333" stroke-width="4.8"/>
<path d="M346 224 H381 V277 H403 L362 312 L321 277 H346 Z" fill="#111" stroke="#fff" stroke-width="10" paint-order="stroke" stroke-linejoin="miter"/>
<g transform="translate(365 337) rotate(-22)">
<rect x="-98" y="-21" width="196" height="42" rx="9" fill="#fff" stroke="#111" stroke-width="5.4"/>
<text x="0" y="11" text-anchor="middle" font-family="Liberation Sans, sans-serif" font-weight="bold" font-size="30" textLength="176" stroke="#111" stroke-width="0.8" lengthAdjust="spacingAndGlyphs" fill="#111">PUSH HERE</text>
</g>
</g>
<rect x="246" y="76" width="384" height="374" rx="34" fill="none" stroke="#111" stroke-width="6"/>
<!-- Erase inset -->
<path d="M478 686 L432 738 L562 686 Z" fill="#fff" stroke="#111" stroke-width="5.4" stroke-linejoin="round"/>
<rect x="446" y="489" width="279" height="201" rx="22" fill="#fff" stroke="#111" stroke-width="6"/>
<path d="M480 684 H558" stroke="#fff" stroke-width="9"/>
<g clip-path="url(#c6)">
<rect x="452" y="518" width="246" height="150" fill="#d4d4d4"/>
<path d="M452 518 H698 V668 M452 596 H698 M452 655 H698 M520 518 V596" fill="none" stroke="#555" stroke-width="4.2"/>
<rect x="455" y="532" width="55" height="55" fill="#cacaca" stroke="#666" stroke-width="3.6"/>
<rect x="602" y="546" width="60" height="50" fill="#e2e2e2" stroke="#333" stroke-width="4.8"/>
<path d="M648 546 V596" stroke="#333" stroke-width="4.8"/>
<path d="M528 604 h30 v55 h-30 z M566 604 h28 v55 h-28 z M602 604 h28 v55 h-28 z M638 604 h28 v55 h-28 z" fill="#dcdcdc" stroke="#333" stroke-width="4.8"/>
<path d="M540 553 h42 M548 562 h30" stroke="#222" stroke-width="4.2"/>
<text x="558" y="545" text-anchor="middle" font-family="Liberation Sans, sans-serif" font-weight="bold" font-size="17" fill="#222" letter-spacing="2">REC</text>
<text x="555" y="586" text-anchor="middle" font-family="Liberation Sans, sans-serif" font-weight="bold" font-size="17" fill="#222" letter-spacing="1.5">SAVE</text>
</g>
<!-- cassette -->
<path d="M40 735 L215 850 V908 L48 800 Q40 795 40 785 Z" fill="#e4e4e4" stroke="#111" stroke-width="6" stroke-linejoin="round"/>
<path d="M215 850 L437 720 V772 L215 908 Z" fill="#b8b8b8" stroke="#111" stroke-width="6" stroke-linejoin="round"/>
<path d="M40 735 L262 607 L437 720 L215 850 Z" fill="#d6d6d6" stroke="#111" stroke-width="6" stroke-linejoin="round"/>
<path d="M68 742 L280 620 L300 632 L88 755 Z" fill="#e8e8e8" stroke="#333" stroke-width="4.2"/>
<path d="M70 760 L100 745 L120 760 L110 775 Z" fill="#fff" stroke="#222" stroke-width="4.8"/>
<path d="M120 745 L150 728 L290 820 L262 838 Z" fill="#cfcfcf" stroke="#333" stroke-width="4.8"/>
<path d="M235 722 L318 675 L390 722 L305 772 Z" fill="#e6e6e6" stroke="#222" stroke-width="4.8"/>
<path d="M168 768 L196 752 L272 806 L245 824 Z" fill="#111"/>
<path d="M385 790 l12 -7 v18 l-12 7 z M402 780 l12 -7 v18 l-12 7 z M419 770 l12 -7 v18 l-12 7 z" fill="#ddd" stroke="#222" stroke-width="3.6"/>
<path d="M415 745 l10 -5 v10 l-10 5 z" fill="#333"/>
<path d="M100 770 V838 M215 870 L48 765" fill="none" stroke="#555" stroke-width="3.6"/>
</svg>
<div class="t b" style="left:641.0px;top:1171.95px;font-size:44.00px;color:#fff;-webkit-text-stroke:1.1px #cdcdcd;text-shadow:0.8px 0.8px 1.2px #c8c8c8;letter-spacing:-0.5px;">Bai</div>
<div class="t b" style="left:641.5px;top:1217.06px;font-size:22.60px;color:#fff;-webkit-text-stroke:1.1px #cdcdcd;text-shadow:0.8px 0.8px 1.2px #c8c8c8;letter-spacing:0.15px;">jingyan.baidu.com</div>
<svg class="abs" style="left:700px;top:1140px;filter:drop-shadow(0.6px 0.6px 0.8px #c8c8c8)" width="150" height="80" viewBox="0 0 150 80">
<g fill="#fff" stroke="#cdcdcd" stroke-width="1.3">
<path d="M38 36 C46 36 52 44 58 50 C66 56 68 64 62 69 C54 74 46 70 38 70 C30 70 22 74 14 69 C8 64 10 56 18 50 C24 44 30 36 38 36 Z"/>
<ellipse cx="17" cy="33" rx="7.5" ry="10.5" transform="rotate(-18 17 33)"/>
<ellipse cx="31" cy="17" rx="7.5" ry="10.5" transform="rotate(-6 31 17)"/>
<ellipse cx="50" cy="18" rx="7.5" ry="10.5" transform="rotate(10 50 18)"/>
<ellipse cx="63" cy="35" rx="7.5" ry="10.5" transform="rotate(22 63 35)"/>
</g>
<text x="38" y="67" text-anchor="middle" font-family="Liberation Sans, sans-serif" font-weight="bold" font-size="25" fill="#fff" stroke="#c4c4c4" stroke-width="1">du</text>
<g fill="none" stroke="#c9c9c9" stroke-width="5.2" stroke-linecap="square">
<path d="M82 40 L75 52 H86 L76 66 M74 72 L88 68 M92 42 H104 L92 54 M98 50 L106 56 M91 61 H106 M98.5 61 V72 M90 72 H107"/>
<path d="M111 41 H121 V58 H111 V41 M111 49 H121 M109 68 L123 64 M121 58 V72 M133 38 L125 50 M133 38 L141 50 M128 52 H138 M127 58 V66 M133 56 V66 M139 58 V66 M125 71 H141"/>
</g>
<g fill="none" stroke="#fff" stroke-width="2.6" stroke-linecap="square">
<path d="M82 40 L75 52 H86 L76 66 M74 72 L88 68 M92 42 H104 L92 54 M98 50 L106 56 M91 61 H106 M98.5 61 V72 M90 72 H107"/>
<path d="M111 41 H121 V58 H111 V41 M111 49 H121 M109 68 L123 64 M121 58 V72 M133 38 L125 50 M133 38 L141 50 M128 52 H138 M127 58 V66 M133 56 V66 M139 58 V66 M125 71 H141"/>
</g>
</svg>
<div class="t b" style="left:49.2px;top:36.15px;font-size:29.00px;color:#000;-webkit-text-stroke:0.4px #000;">16</div>
<div class="t b" style="left:91.0px;top:47.15px;font-size:16.00px;color:#000;">EN</div>
<div class="t hd" style="left:126.3px;top:35.81px;font-size:21.60px;transform:scaleX(0.848);">GETTING STARTED</div>
<div class="abs" style="left:125.5px;top:59.4px;width:738.5px;height:2.2px;background:#111;"></div>
<div class="bar" style="left:48.3px;top:80.8px;width:12.6px;height:40.1px;"></div>
<div class="t h" style="left:67.6px;top:81.80px;font-size:30.00px;transform:scaleX(0.7437);">Viewfinder Adjustment</div>
<div class="rule" style="left:66.8px;top:120.2px;width:378.7px;"></div>
<div class="t num" style="left:48.5px;top:123.25px;font-size:29.00px;">1</div>
<div class="t " style="left:72.8px;top:132.14px;font-size:18.50px;">Set the Power Switch to “<span class="ia">A</span>” or “<span class="im">M</span>” while</div>
<div class="t " style="left:48.5px;top:152.84px;font-size:18.50px;">pressing down the Lock Button located on the</div>
<div class="t " style="left:48.5px;top:174.44px;font-size:18.50px;">switch.</div>
<div class="t num" style="left:48.5px;top:193.95px;font-size:29.00px;">2</div>
<div class="t " style="left:72.8px;top:202.84px;font-size:18.50px;">Make sure the LCD monitor is closed and</div>
<div class="t " style="left:48.5px;top:224.14px;font-size:18.50px;">locked. Pull out the viewfinder fully and adjust it</div>
<div class="t " style="left:48.5px;top:244.84px;font-size:18.50px;">manually for best viewability.</div>
<div class="t num" style="left:48.5px;top:264.75px;font-size:29.00px;">3</div>
<div class="t " style="left:72.8px;top:273.64px;font-size:18.50px;">Turn the Dioptre Adjustment Control until the</div>
<div class="t " style="left:48.5px;top:294.74px;font-size:18.50px;">indications in the viewfinder are clearly focused.</div>
<div class="t b" style="left:72.5px;top:318.11px;font-size:17.00px;">Example:</div>
<div class="t b" style="left:216.2px;top:563.14px;font-size:17.20px;">Dioptre Adjustment Control</div>
<div class="t cau" style="left:49.2px;top:597.31px;font-size:20.30px;letter-spacing:0.55px;">CAUTION:</div>
<div class="t " style="left:48.5px;top:620.95px;font-size:17.30px;">When retracting the viewfinder, take care not to</div>
<div class="t " style="left:48.5px;top:640.95px;font-size:17.30px;">pinch your fingers.</div>
<div class="bar" style="left:48.3px;top:675.3px;width:12.6px;height:72.3px;"></div>
<div class="t h" style="left:68.3px;top:676.50px;font-size:30.00px;transform:scaleX(0.7172);">Brightness Adjustment Of The</div>
<div class="t h" style="left:68.3px;top:708.20px;font-size:30.00px;transform:scaleX(0.6951);">Display</div>
<div class="rule" style="left:66.8px;top:747.4px;width:378.7px;"></div>
<div class="t num" style="left:48.5px;top:753.15px;font-size:29.00px;">1</div>
<div class="t " style="left:72.8px;top:762.04px;font-size:18.50px;">Set the Power Switch</div>
<div class="t " style="left:48.5px;top:783.04px;font-size:18.50px;">to “<span class="im">M</span>” or “PLAY” while</div>
<div class="t " style="left:48.5px;top:804.04px;font-size:18.50px;">pressing down the Lock</div>
<div class="t " style="left:48.5px;top:825.04px;font-size:18.50px;">Button located on the</div>
<div class="t " style="left:48.5px;top:846.04px;font-size:18.50px;">switch.</div>
<div class="t num" style="left:48.5px;top:865.65px;font-size:29.00px;">2</div>
<div class="t " style="left:72.8px;top:874.54px;font-size:18.50px;">Open the LCD monitor</div>
<div class="t " style="left:48.5px;top:896.04px;font-size:18.50px;">fully. (<svg class="hand" width="17" height="10" viewBox="0 0 17 10"><path d="M0.5 2.2h3.6c1.2-1.2 2.6-1.5 4-1.5h7.4c1 0 1 1.7 0 1.7h-5.5M10 2.4h2.6c.9 0 .9 1.7 0 1.7h-2.4M10.2 4.1h1.9c.9 0 .9 1.6 0 1.6h-2M10.1 5.7h1.2c.9 0 .9 1.6 0 1.6H7.5c-1.4 0-2.4-.4-3.4-1.2H0.5" fill="none" stroke="#555" stroke-width="0.9"/></svg> pg. 18)</div>
<div class="bl" style="left:49.6px;top:922.4px;"></div>
<div class="t " style="left:62.5px;top:916.64px;font-size:17.20px;">To adjust the brightness of</div>
<div class="t " style="left:62.5px;top:937.14px;font-size:17.20px;">the viewfinder, pull out the</div>
<div class="t " style="left:62.5px;top:957.14px;font-size:17.20px;">viewfinder fully and set</div>
<div class="t " style="left:62.5px;top:977.14px;font-size:17.20px;">“PRIORITY” to “FINDER”</div>
<div class="t " style="left:62.5px;top:997.14px;font-size:17.20px;">(<svg class="hand" width="17" height="10" viewBox="0 0 17 10"><path d="M0.5 2.2h3.6c1.2-1.2 2.6-1.5 4-1.5h7.4c1 0 1 1.7 0 1.7h-5.5M10 2.4h2.6c.9 0 .9 1.7 0 1.7h-2.4M10.2 4.1h1.9c.9 0 .9 1.6 0 1.6h-2M10.1 5.7h1.2c.9 0 .9 1.6 0 1.6H7.5c-1.4 0-2.4-.4-3.4-1.2H0.5" fill="none" stroke="#555" stroke-width="0.9"/></svg> pg. 31, 34).</div>
<div class="t num" style="left:48.5px;top:1014.55px;font-size:29.00px;">3</div>
<div class="t " style="left:72.8px;top:1023.44px;font-size:18.50px;">Press <b>MENU</b>. The</div>
<div class="t " style="left:48.5px;top:1045.24px;font-size:18.50px;">Menu Screen appears.</div>
<div class="t num" style="left:48.5px;top:1063.95px;font-size:29.00px;">4</div>
<div class="t " style="left:72.8px;top:1072.84px;font-size:18.50px;word-spacing:-0.35px;">Press <b>+</b> or <b>–</b> to select “<svg class="idisp" width="21.6" height="13.5" viewBox="0 0 24 15"><rect x="0" y="0" width="24" height="15" rx="1.5" fill="#111"/><rect x="6" y="2.5" width="12" height="10" rx="2.5" fill="#fff"/><circle cx="12" cy="7.5" r="3" fill="#111"/><rect x="12.5" y="4" width="2" height="3.5" fill="#fff"/></svg>”, and press <b>MENU</b>.</div>
<div class="t " style="left:48.5px;top:1093.84px;font-size:18.50px;">The CAMERA DISPLAY Menu appears.</div>
<div class="t num" style="left:48.5px;top:1114.35px;font-size:29.00px;">5</div>
<div class="t " style="left:72.8px;top:1123.24px;font-size:18.50px;word-spacing:0.3px;">Press <b>+</b> or <b>–</b> to select “BRIGHT”, and press</div>
<div class="t " style="left:48.5px;top:1143.64px;font-size:18.50px;"><b>MENU</b>. The Menu Screen closes and the</div>
<div class="t " style="left:48.5px;top:1164.54px;font-size:18.50px;">brightness control indicator appears.</div>
<div class="t num" style="left:48.5px;top:1184.35px;font-size:29.00px;">6</div>
<div class="t " style="left:72.8px;top:1193.24px;font-size:18.50px;word-spacing:0.25px;">Press <b>+</b> or <b>–</b> until the appropriate brightness</div>
<div class="t " style="left:48.5px;top:1214.04px;font-size:18.50px;">is reached.</div>
<div class="t b" style="left:278.8px;top:904.49px;font-size:16.90px;color:#000;">MENU</div>
<div class="t b" style="left:415.3px;top:769.43px;font-size:16.50px;color:#000;">+</div>
<div class="t b" style="left:300.8px;top:797.93px;font-size:16.50px;color:#000;">–</div>
<div class="t num" style="left:467.0px;top:68.25px;font-size:29.00px;font-style:italic;">7</div>
<div class="t " style="left:491.2px;top:77.14px;font-size:18.50px;word-spacing:0.38px;">Press <b>MENU</b> to clear the brightness control</div>
<div class="t " style="left:467.5px;top:98.14px;font-size:18.50px;">indicator from the display.</div>
<div class="bar" style="left:466.7px;top:135.3px;width:12.3px;height:39.6px;"></div>
<div class="t h" style="left:485.6px;top:136.20px;font-size:30.00px;transform:scaleX(0.7147);">Tripod Mounting</div>
<div class="rule" style="left:484.6px;top:174.8px;width:379.4px;"></div>
<div class="t " style="left:467.6px;top:184.14px;font-size:18.50px;">To attach the camcorder</div>
<div class="t " style="left:467.6px;top:205.21px;font-size:18.50px;">to a tripod, align the</div>
<div class="t " style="left:467.6px;top:226.28px;font-size:18.50px;">direction stud and screw</div>
<div class="t " style="left:467.6px;top:247.35px;font-size:18.50px;">to the mounting socket</div>
<div class="t " style="left:467.6px;top:268.42px;font-size:18.50px;">and stud hole on the</div>
<div class="t " style="left:467.6px;top:289.49px;font-size:18.50px;">camcorder. Then tighten</div>
<div class="t " style="left:467.6px;top:310.56px;font-size:18.50px;">the screw clockwise.</div>
<div class="bl" style="left:467.6px;top:336.6px;"></div>
<div class="t " style="left:481.0px;top:331.34px;font-size:18.50px;">Some tripods are not</div>
<div class="t " style="left:481.0px;top:352.34px;font-size:18.50px;">equipped with studs.</div>
<div class="bar" style="left:466.7px;top:389.8px;width:12.3px;height:40px;"></div>
<div class="t h" style="left:485.3px;top:390.70px;font-size:30.00px;transform:scaleX(0.7393);">Loading/Unloading A Cassette</div>
<div class="rule" style="left:484.6px;top:429.5px;width:379.4px;"></div>
<div class="t " style="left:467.5px;top:438.44px;font-size:18.50px;">The camcorder needs to be powered up to load</div>
<div class="t " style="left:467.5px;top:460.04px;font-size:18.50px;">or eject a cassette.</div>
<div class="t b" style="left:470.3px;top:484.14px;font-size:17.20px;">Cassette holder</div>
<div class="t b" style="left:689.0px;top:491.54px;font-size:17.20px;">Cassette holder</div>
<div class="t b" style="left:689.0px;top:508.84px;font-size:17.20px;">cover</div>
<div class="t b" style="left:553.0px;top:515.94px;font-size:17.20px;">PUSH HERE</div>
<div class="t b" style="left:477.5px;top:741.14px;font-size:17.20px;">OPEN/EJECT</div>
<div class="t b" style="left:503.0px;top:763.14px;font-size:17.20px;">Make sure the window side</div>
<div class="t b" style="left:503.0px;top:780.94px;font-size:17.20px;">is facing out.</div>
<div class="t b" style="left:747.7px;top:727.14px;font-size:17.20px;">Erase</div>
<div class="t b" style="left:747.7px;top:744.94px;font-size:17.20px;">protection tab</div>
<div class="t num" style="left:468.5px;top:812.05px;font-size:29.00px;">1</div>
<div class="t " style="left:491.0px;top:820.94px;font-size:18.50px;word-spacing:0.4px;">Slide and hold <b>OPEN/EJECT</b> in the direction</div>
<div class="t " style="left:467.5px;top:841.44px;font-size:18.50px;">of the arrow, then pull the cassette holder cover</div>
<div class="t " style="left:467.5px;top:862.74px;font-size:18.50px;">open until it locks. The cassette holder opens</div>
<div class="t " style="left:467.5px;top:883.34px;font-size:18.50px;">automatically.</div>
<div class="bl" style="left:467.6px;top:909.6px;"></div>
<div class="t " style="left:481.0px;top:905.35px;font-size:17.30px;">Do not touch internal components.</div>
<div class="t num" style="left:467.5px;top:923.45px;font-size:29.00px;">2</div>
<div class="t " style="left:491.0px;top:932.34px;font-size:18.50px;word-spacing:0.4px;">Insert or remove a tape and press “PUSH</div>
<div class="t " style="left:467.5px;top:953.34px;font-size:18.50px;">HERE” to close the cassette holder.</div>
<div class="bl" style="left:467.6px;top:978.9px;"></div>
<div class="t " style="left:481.0px;top:974.75px;font-size:17.30px;">Be sure to press only the section labelled “PUSH</div>
<div class="t " style="left:481.0px;top:994.47px;font-size:17.30px;">HERE” to close the cassette holder; touching</div>
<div class="t " style="left:481.0px;top:1014.19px;font-size:17.30px;">other parts may cause your finger to get caught in</div>
<div class="t " style="left:481.0px;top:1033.91px;font-size:17.30px;">the cassette holder, resulting in injury or product</div>
<div class="t " style="left:481.0px;top:1053.63px;font-size:17.30px;">damage.</div>
<div class="bl" style="left:467.6px;top:1078.3px;"></div>
<div class="t " style="left:481.0px;top:1074.15px;font-size:17.30px;">Once the cassette holder is closed, it recedes</div>
<div class="t " style="left:481.0px;top:1093.65px;font-size:17.30px;">automatically. Wait until it recedes completely</div>
<div class="t " style="left:481.0px;top:1113.15px;font-size:17.30px;">before closing the cassette holder cover.</div>
</div>
</body></html>
